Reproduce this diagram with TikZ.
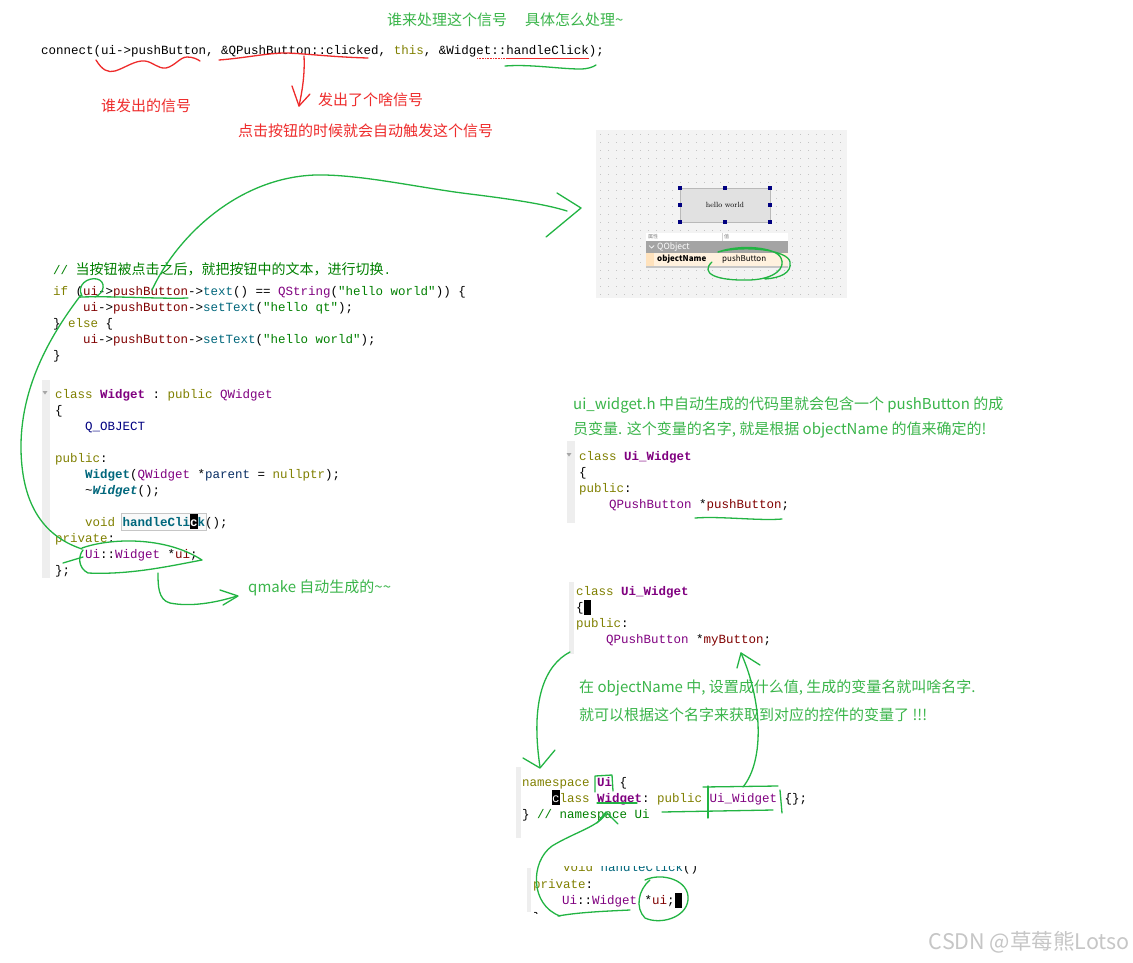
\documentclass[tikz,border=0pt]{standalone}
\usepackage{fontspec}
\setmonofont{Liberation Mono}
\newfontfamily\cjk{Noto Sans CJK SC}
\usepackage{xcolor}
\usetikzlibrary{arrows.meta,positioning}

\definecolor{kwdc}{HTML}{808000}
\definecolor{typc}{HTML}{800080}
\definecolor{fncc}{HTML}{00677C}
\definecolor{mbrc}{HTML}{800000}
\definecolor{strc}{HTML}{008000}
\definecolor{macc}{HTML}{000080}
\definecolor{parc}{HTML}{092E64}
\definecolor{penc}{HTML}{22B443}
\definecolor{gtxt}{HTML}{3AB54A}
\definecolor{redc}{HTML}{EE2B2B}
\definecolor{gutc}{HTML}{EEEEEE}
\definecolor{panelc}{HTML}{F3F3F3}
\definecolor{dotc}{HTML}{C4C4C4}
\definecolor{btnc}{HTML}{E1E1E1}
\definecolor{hdlc}{HTML}{000080}
\definecolor{qrowc}{HTML}{A4A4A4}
\definecolor{orowc}{HTML}{FFF1DE}
\definecolor{orowd}{HTML}{FFE2BC}

\newcommand\ckw[1]{\textcolor{kwdc}{#1}}
\newcommand\cty[1]{\textcolor{typc}{#1}}
\newcommand\ctyb[1]{\textcolor{typc}{\bfseries #1}}
\newcommand\cfn[1]{\textcolor{fncc}{#1}}
\newcommand\cmb[1]{\textcolor{mbrc}{#1}}
\newcommand\cst[1]{\textcolor{strc}{#1}}
\newcommand\cmc[1]{\textcolor{macc}{#1}}

\begin{document}
\begin{tikzpicture}[x=1pt, y=-1pt,
  code/.style={font=\ttfamily\fontsize{12.5}{16}\selectfont, anchor=base west, inner sep=0pt},
  note/.style={font=\cjk\fontsize{15}{18}\selectfont, anchor=west, inner sep=0pt},
  tiny/.style={font=\cjk\fontsize{8}{9}\selectfont, anchor=west, inner sep=0pt},
  gpen/.style={draw=penc, line width=1.3pt, line cap=round, line join=round},
  rpen/.style={draw=redc, line width=1.3pt, line cap=round, line join=round},
  hlbox/.style={draw=gray!45, fill=gray!5, line width=0.6pt}
]
\useasboundingbox[fill=white] (0,0) rectangle (1133,962);

% connect call
\node[note, text=gtxt] (who) at (387,20) {谁来处理这个信号};
\node[note, text=gtxt] (how) at (525,20) {具体怎么处理\textasciitilde};
\node[code] (conn) at (41,54) {connect(ui->pushButton, \&QPushButton::clicked, \ckw{this}, \&Widget::handleClick);};
\draw[redc, line width=0.7pt] (506,58.5) -- (589,58.5);
\draw[redc, line width=0.6pt, densely dotted] (477,58.5) -- (505,58.5);
\draw[rpen] (96,60) .. controls (102,70) and (108,73) .. (115,71) .. controls (125,68) and (135,60) .. (145,61) .. controls (153,62) and (158,69) .. (166,68) .. controls (175,66) and (180,57) .. (187,57) .. controls (193,57) and (197,59) .. (200,61);
\draw[rpen] (219,60) .. controls (245,58) and (268,53) .. (285,53) .. controls (300,53) and (330,57) .. (368,58);
\draw[rpen] (304,56) .. controls (305,75) and (302,92) .. (299,106);
\draw[rpen] (292,86) -- (299,106) -- (310,94);
\draw[gpen] (505,66) .. controls (530,64) and (560,69) .. (580,69) .. controls (588,69) and (593,67) .. (596,65);
\node[note, text=redc] (whosig) at (101,106) {谁发出的信号};
\node[note, text=redc] (whatsig) at (318,100) {发出了个啥信号};
\node[note, text=redc] (autosig) at (238,131) {点击按钮的时候就会自动触发这个信号};

% designer screenshot
\fill[panelc] (596,130) rectangle (847,298);
\foreach \dx in {0,...,30}
  \foreach \dy in {0,...,20}
    \fill[dotc] (600+8*\dx,134+8*\dy) rectangle ++(1,1);
\node[draw=gray!55, fill=btnc, minimum width=90pt, minimum height=34pt, inner sep=0pt,
  font=\rmfamily\fontsize{7.5}{8}\selectfont] (btn) at (725,205) {hello world};
\foreach \h in {north west, north, north east, west, east, south west, south, south east}
  \fill[hdlc] ([xshift=-2pt, yshift=2pt]btn.\h) rectangle ++(4,4);
\fill[white] (646,233) rectangle (788,241);
\draw[gray!35, line width=0.4pt] (722,233) -- (722,241);
\node[tiny, font=\cjk\fontsize{5}{6}\selectfont, text=gray] (hdrprop) at (648,237) {属性};
\node[tiny, font=\cjk\fontsize{5}{6}\selectfont, text=gray] (hdrval) at (724,237) {值};
\fill[qrowc] (646,241) rectangle (788,253);
\draw[white, line width=0.7pt] (649,245.5) -- (651.5,248) -- (654,245.5);
\node[tiny, text=white, font=\cjk\fontsize{8.5}{9}\selectfont] (qobjrow) at (657,247) {QObject};
\fill[orowc] (646,253) rectangle (788,266);
\fill[orowd] (646,253) rectangle (654,266);
\node[tiny, font=\cjk\bfseries\fontsize{8}{9}\selectfont] (objname) at (657,259.5) {objectName};
\node[tiny] (objval) at (722,259.5) {pushButton};
\fill[gray!45] (646,266) rectangle (788,268);
\draw[gpen] (712,262) .. controls (700,273) and (715,281) .. (750,280) .. controls (775,279) and (786,268) .. (781,258) .. controls (776,247) and (740,244) .. (718,252) .. controls (745,245) and (788,250) .. (790,262) .. controls (792,273) and (780,278) .. (765,279);

% toggle code
\node[code] (cmt) at (53,274) {\cst{// {\cjk\fontsize{14}{16}\selectfont 当按钮被点击之后，就把按钮中的文本，进行切换}.}};
\node[code] (ifl) at (53,295) {\ckw{if} (\cmb{ui}->\cmb{pushButton}->\cfn{text}() == \cty{QString}(\cst{"hello world"})) \{};
\node[code] (set1) at (83,311) {\cmb{ui}->\cmb{pushButton}->\cfn{setText}(\cst{"hello qt"});};
\node[code] (elsel) at (53,327) {\} \ckw{else} \{};
\node[code] (set2) at (83,343) {\cmb{ui}->\cmb{pushButton}->\cfn{setText}(\cst{"hello world"});};
\node[code] (endif) at (53,359) {\}};
\draw[gpen] (80,297) .. controls (120,296) and (160,299) .. (188,298);
\draw[gpen] (82,296) .. controls (76,285) and (88,277) .. (97,279) .. controls (106,281) and (105,293) .. (95,297);
\draw[gpen] (152,290) .. controls (175,240) and (235,178) .. (315,175) .. controls (360,174) and (420,188) .. (470,194) .. controls (510,199) and (545,204) .. (567,211);
\draw[gpen] (557,193) -- (581,208) -- (546,237);

% widget class
\fill[gutc] (42,380) rectangle (50,578);
\fill[gray!70] (42.5,391) -- (47.5,391) -- (45,394.5) -- cycle;
\node[code] (cls) at (55,398) {\ckw{class} \ctyb{Widget} : \ckw{public} \cty{QWidget}};
\node[code] (lbr) at (55,414) {\{};
\node[code] (qobj) at (85,430) {\cmc{Q\_OBJECT}};
\node[code] (pub) at (55,462) {\ckw{public}:};
\node[code] (ctor) at (85,478) {\cfn{\bfseries Widget}(\cty{QWidget} *\textcolor{parc}{parent} = \ckw{nullptr});};
\node[code] (dtor) at (85,494) {\textasciitilde\cfn{\bfseries\itshape Widget}();};
\draw[hlbox] (121,513) rectangle (206,530);
\fill[black] (190,514) rectangle (197.5,529);
\node[code] (slot) at (85,526) {\ckw{void} \cfn{\bfseries handleCli\textcolor{white}{c}k}();};
\node[code] (priv) at (55,542) {\ckw{private}:};
\node[code] (uiptr) at (85,558) {\cty{Ui}::\cty{Widget} *\cmb{ui};};
\node[code] (rbr) at (55,574) {\};};
\draw[gpen] (81,295) .. controls (48,338) and (20,390) .. (21,450) .. controls (22,500) and (40,535) .. (82,549);
\draw[gpen] (82,548) .. controls (110,538) and (165,536) .. (202,560) .. controls (170,566) and (130,575) .. (88,573) .. controls (78,568) and (78,556) .. (83,550);
\draw[gpen] (63,563) -- (83,557);
\draw[gpen] (158,573) .. controls (158,585) and (158,600) .. (170,603) .. controls (190,607) and (215,603) .. (237,596);
\draw[gpen] (220,590) -- (238,596) -- (223,605);
\node[note, text=gtxt] (qmake) at (248,588) {qmake 自动生成的\textasciitilde\textasciitilde};

% generated header
\node[note, text=gtxt] (hdr1) at (573,405) {ui\_widget.h 中自动生成的代码里就会包含一个 pushButton 的成};
\node[note, text=gtxt] (hdr2) at (573,430) {员变量. 这个变量的名字, 就是根据 objectName 的值来确定的!};
\fill[gutc] (567,441) rectangle (575,523);
\fill[gray!70] (566.5,453) -- (571.5,453) -- (569,456.5) -- cycle;
\node[code] (uicls) at (579,460) {\ckw{class} \ctyb{Ui\_Widget}};
\node[code] (uilbr) at (579,476) {\{};
\node[code] (uipub) at (579,492) {\ckw{public}:};
\node[code] (uibtn) at (609,508) {\cty{QPushButton} *\cmb{pushButton};};
\draw[gpen] (695,518) .. controls (720,516) and (760,521) .. (782,519);

% renamed member
\fill[gutc] (569,582) rectangle (574,654);
\node[code] (mycls) at (576,595) {\ckw{class} \ctyb{Ui\_Widget}};
\node[code] (mylbr) at (576,611) {\{};
\fill[black] (584,600) rectangle (591,615);
\node[code] (mypub) at (576,627) {\ckw{public}:};
\node[code] (mybtn) at (606,643) {\cty{QPushButton} *\cmb{myButton};};
\node[note, text=gtxt] (rename1) at (579,688) {在 objectName 中, 设置成什么值, 生成的变量名就叫啥名字.};
\node[note, text=gtxt] (rename2) at (579,715) {就可以根据这个名字来获取到对应的控件的变量了 !!!};
\draw[gpen] (570,652) .. controls (545,665) and (530,700) .. (540,767);
\draw[gpen] (523,758) -- (540,768) -- (555,750);

% namespace Ui
\fill[gutc] (516,767) rectangle (521,838);
\node[code] (ns) at (522,786) {\ckw{namespace} \ctyb{Ui} \{};
\fill[black] (552,790) rectangle (559.5,805);
\node[code] (nscls) at (552,802) {\ckw{\textcolor{white}{c}lass} \ctyb{Widget}: \ckw{public} \cty{Ui\_Widget} \{\};};
\node[code] (nsend) at (522,818) {\} \cst{// namespace Ui}};
\draw[gpen] (595,792) -- (595,776) -- (612,775) -- (613,791);
\draw[gpen] (597,803) -- (637,803);
\draw[gpen] (703,787) -- (778,786);
\draw[gpen] (708,786) -- (708,818);
\draw[gpen] (780,790) -- (782,813);
\draw[gpen] (662,812) -- (773,810);
\draw[gpen] (743,787) .. controls (765,760) and (762,700) .. (741,653);
\draw[gpen] (737,668) -- (741,653) -- (760,665);

% ui member in widget.h
\fill[gutc] (527,868) rectangle (531,912);
\begin{scope}
  \clip (520,866) rectangle (720,913);
  \node[code] (voidcut) at (563,871) {\ckw{void} \cfn{handleClick}()};
  \node[code] (endcut) at (533,921) {\};};
\end{scope}
\node[code] (priv2) at (533,888) {\ckw{private}:};
\node[code] (uiptr2) at (562,904) {\cty{Ui}::\cty{Widget} *\cmb{ui};};
\fill[black] (675,893) rectangle (682,908);
\draw[gpen] (558,916) .. controls (580,912) and (610,911) .. (630,910);
\draw[gpen] (560,916) .. controls (530,905) and (530,862) .. (552,846) .. controls (575,832) and (600,826) .. (606,813);
\draw[gpen] (597,823) -- (606,812) -- (618,824);
\draw[gpen] (645,880) .. controls (662,872) and (690,880) .. (688,900) .. controls (686,918) and (660,925) .. (645,918) .. controls (635,908) and (638,890) .. (650,880);

% watermark
\node[font=\cjk\fontsize{21.5}{23}\selectfont, text=gray!45, anchor=east, inner sep=0pt] (mark) at (1130,942) {CSDN @草莓熊Lotso};
\end{tikzpicture}
\end{document}
